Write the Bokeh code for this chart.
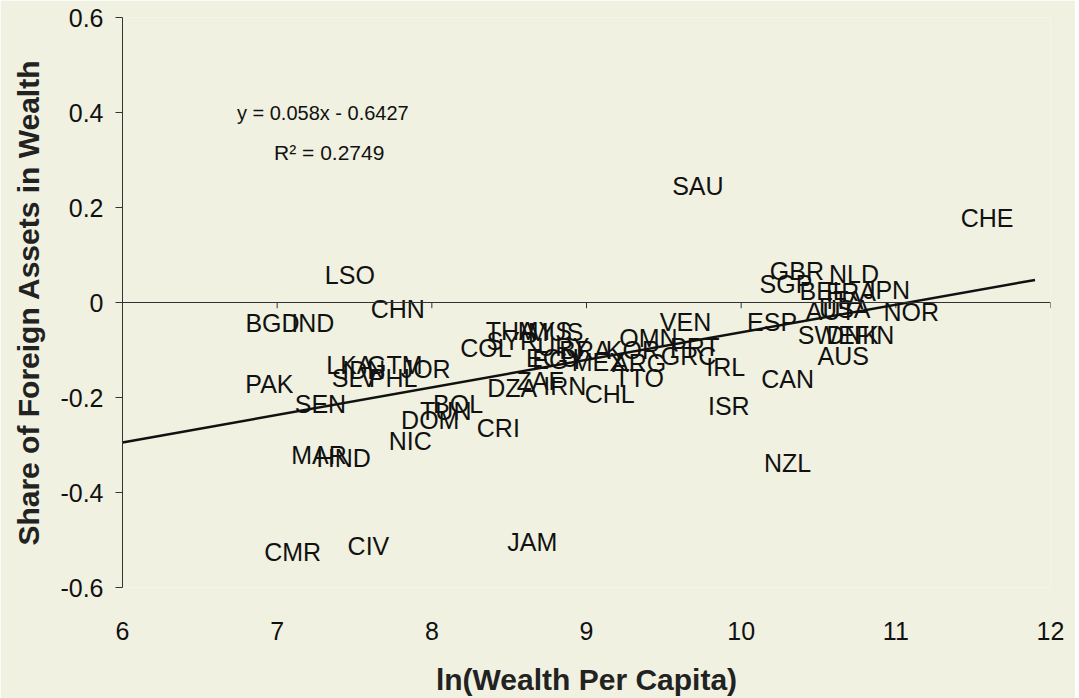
from bokeh.plotting import figure
from bokeh.models import Range1d, ColumnDataSource, Label, FixedTicker, Span
from bokeh.core.properties import value
from bokeh.embed import file_html
from bokeh.resources import INLINE

# ---- data -------------------------------------------------------------
countries = ["SAU", "CHE", "LSO", "CHN", "BGD", "IND",
             "THA", "MYS", "MUS", "COL", "SYR", "OMN", "VEN", "PRT", "KOR", "GRC", "IRL",
             "ARG", "TTO", "MEX", "EGY", "ECU", "URY", "BRA",
             "GBR", "NLD", "SGP", "BEL", "JPN", "FRA", "ITA", "AUT", "USA", "NOR",
             "SWE", "DNK", "FIN", "AUS", "CAN", "NZL", "ISR", "ESP",
             "PAK", "SEN", "LKA", "GTM", "IDN", "SLV", "PHL", "JOR",
             "BOL", "TUN", "DOM", "CRI", "NIC", "MAR", "HND",
             "CMR", "CIV", "JAM", "DZA", "ZAF", "IRN", "CHL"]
wealth = [9.72, 11.59, 7.47, 7.78, 6.97, 7.23,
          8.51, 8.73, 8.80, 8.35, 8.52, 9.40, 9.64, 9.70, 9.30, 9.66, 9.90,
          9.34, 9.34, 9.08, 8.82, 8.78, 8.85, 8.99,
          10.36, 10.73, 10.29, 10.53, 10.94, 10.71, 10.67, 10.58, 10.67, 11.10,
          10.55, 10.72, 10.86, 10.66, 10.30, 10.30, 9.92, 10.20,
          6.95, 7.28, 7.47, 7.76, 7.56, 7.50, 7.75, 7.96,
          8.17, 8.09, 7.99, 8.43, 7.86, 7.27, 7.43,
          7.10, 7.59, 8.65, 8.52, 8.70, 8.86, 9.15]
share = [0.246, 0.177, 0.057, -0.013, -0.044, -0.044,
         -0.059, -0.059, -0.062, -0.095, -0.082, -0.074, -0.040, -0.093, -0.099, -0.112, -0.135,
         -0.128, -0.158, -0.126, -0.122, -0.116, -0.093, -0.100,
         0.067, 0.060, 0.038, 0.025, 0.026, 0.022, 0.005, -0.017, -0.013, -0.019,
         -0.069, -0.069, -0.069, -0.112, -0.160, -0.337, -0.217, -0.042,
         -0.171, -0.213, -0.131, -0.131, -0.143, -0.158, -0.158, -0.139,
         -0.213, -0.229, -0.248, -0.265, -0.291, -0.322, -0.328,
         -0.526, -0.512, -0.505, -0.179, -0.166, -0.175, -0.192]

slope = 0.058
intercept = -0.6427
r_squared = 0.2749
trend_x = [6.0, 11.9]

x_ticks = [6, 7, 8, 9, 10, 11, 12]
y_ticks = [-0.6, -0.4, -0.2, 0, 0.2, 0.4, 0.6]

# ---- figure -----------------------------------------------------------
BG = "#f0f1e0"
FONT = "Liberation Sans"
INK = "#111111"

p = figure(width=1075, height=698, output_backend="svg", toolbar_location=None,
           x_range=Range1d(6, 12), y_range=Range1d(-0.6, 0.6),
           min_border_left=122, min_border_right=25, min_border_top=17, min_border_bottom=111)
p.background_fill_color = BG
p.border_fill_color = BG
p.outline_line_color = None
p.grid.visible = False

# x axis (labels only; the axis line is drawn at y = 0)
xa = p.xaxis[0]
xa.ticker = FixedTicker(ticks=x_ticks)
xa.axis_line_color = None
xa.major_tick_line_color = None
xa.minor_tick_line_color = None
xa.major_label_standoff = 28
xa.major_label_text_font = FONT
xa.major_label_text_font_size = "25px"
xa.major_label_text_color = INK
xa.axis_label = "ln(Wealth Per Capita)"
xa.axis_label_text_font = FONT
xa.axis_label_text_font_style = "bold"
xa.axis_label_text_font_size = "30px"
xa.axis_label_standoff = 20
xa.axis_label_text_color = "#222222"

ya = p.yaxis[0]
ya.ticker = FixedTicker(ticks=y_ticks)
ya.major_label_overrides = {t: ("0" if t == 0 else f"{t:g}") for t in y_ticks}
ya.axis_line_color = "#333333"
ya.major_tick_line_color = "#333333"
ya.major_tick_out = 7
ya.major_tick_in = 0
ya.minor_tick_line_color = None
ya.major_label_text_font = FONT
ya.major_label_text_font_size = "25px"
ya.major_label_text_color = INK
ya.major_label_standoff = 12
ya.axis_label = "Share of Foreign Assets in Wealth"
ya.axis_label_text_font = FONT
ya.axis_label_text_font_style = "bold"
ya.axis_label_text_font_size = "30px"
ya.axis_label_standoff = 12
ya.axis_label_text_color = "#222222"

# horizontal axis line at y = 0
p.add_layout(Span(location=0, dimension="width", line_color="#333333", line_width=1))
p.segment(x0=x_ticks, x1=x_ticks, y0=[0] * len(x_ticks), y1=[-0.012] * len(x_ticks),
          line_color="#333333", line_width=1)

# trend line
p.line(trend_x, [slope * x + intercept for x in trend_x], line_color=INK, line_width=2.5)

# country labels
src = ColumnDataSource(dict(x=wealth, y=share, t=countries))
p.text(x="x", y="y", text="t", source=src, text_align="center", text_baseline="middle",
       text_font=value(FONT), text_font_size="25px", text_color=INK)

p.add_layout(Label(x=6.74, y=0.4, text=f"y = {slope}x - {abs(intercept)}",
                   text_font=FONT, text_font_size="20px", text_color=INK,
                   text_baseline="middle"))
p.add_layout(Label(x=6.98, y=0.316, text=f"R\u00b2 = {r_squared}",
                   text_font=FONT, text_font_size="21px", text_color=INK,
                   text_baseline="middle"))

open("out.html", "w").write(file_html(p, INLINE))
